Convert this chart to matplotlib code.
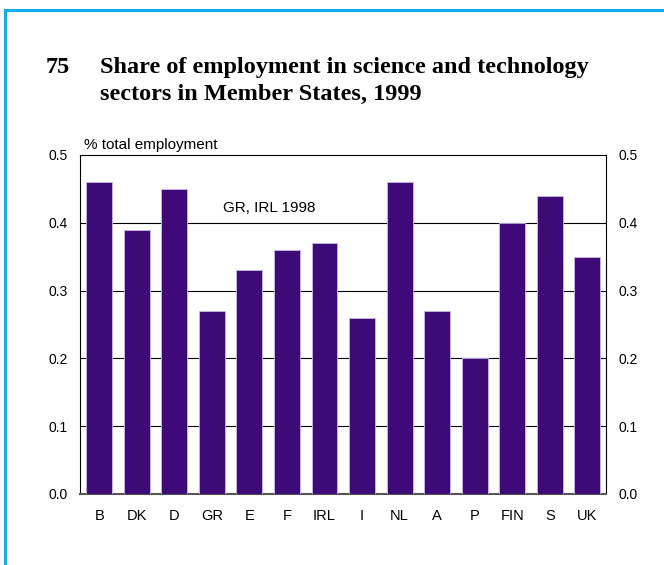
import matplotlib
matplotlib.use("Agg")
import matplotlib.pyplot as plt
from matplotlib.lines import Line2D

countries = ["B", "DK", "D", "GR", "E", "F", "IRL", "I", "NL", "A", "P", "FIN", "S", "UK"]
share = [0.46, 0.39, 0.45, 0.27, 0.33, 0.36, 0.37, 0.26, 0.46, 0.27, 0.20, 0.40, 0.44, 0.35]
yticks = [0.0, 0.1, 0.2, 0.3, 0.4, 0.5]

plt.rcParams['font.family'] = ['Liberation Sans', 'DejaVu Sans']

fig = plt.figure(figsize=(6.64, 5.65), dpi=100)

# blue frame on top and left
frame_col = '#0db0ec'
fig.add_artist(Line2D([0.007, 1.0], [0.983, 0.983], color=frame_col, lw=2.2, transform=fig.transFigure))
fig.add_artist(Line2D([0.007, 0.007], [0.0, 0.983], color=frame_col, lw=2.2, transform=fig.transFigure))

# title
tkw = dict(fontsize=17.5, fontweight='bold', family='Liberation Serif', va='baseline')
fig.text(0.068, 0.870, "75", **tkw)
fig.text(0.151, 0.870, "Share of employment in science and technology", **tkw)
fig.text(0.151, 0.823, "sectors in Member States, 1999", **tkw)

ax = fig.add_axes([0.1212, 0.1257, 0.7915, 0.6])
x = range(len(countries))
ax.bar(x, share, width=0.69, color='#3d0a78', edgecolor='#c8b8e8', linewidth=0.6, zorder=3)

ax.set_xlim(-0.5, len(countries) - 0.5)
ax.set_ylim(0, 0.5)
ax.set_yticks(yticks)
ax.set_yticklabels([f"{t:.1f}" for t in yticks])
ax.set_xticks(list(x))
ax.set_xticklabels(countries)
for t in yticks[1:-1]:
    ax.axhline(t, color='black', lw=0.8, zorder=1)

ax.tick_params(axis='y', which='both', left=True, right=True, labelleft=True, labelright=True,
               direction='out', length=0, labelsize=10, pad=9)
ax.tick_params(axis='x', length=0, labelsize=10.5, pad=11)
for side in ['top', 'right', 'left']:
    ax.spines[side].set_linewidth(0.8)
ax.spines['bottom'].set_color('#555555')
ax.spines['bottom'].set_linewidth(1.5)

ax.text(0.006, 1.008, "% total employment", transform=ax.transAxes, fontsize=11, ha='left', va='bottom')
ax.text(4.54, 0.422, "GR, IRL 1998", fontsize=11, ha='center', va='center')

fig.savefig("out.png", dpi=100)
